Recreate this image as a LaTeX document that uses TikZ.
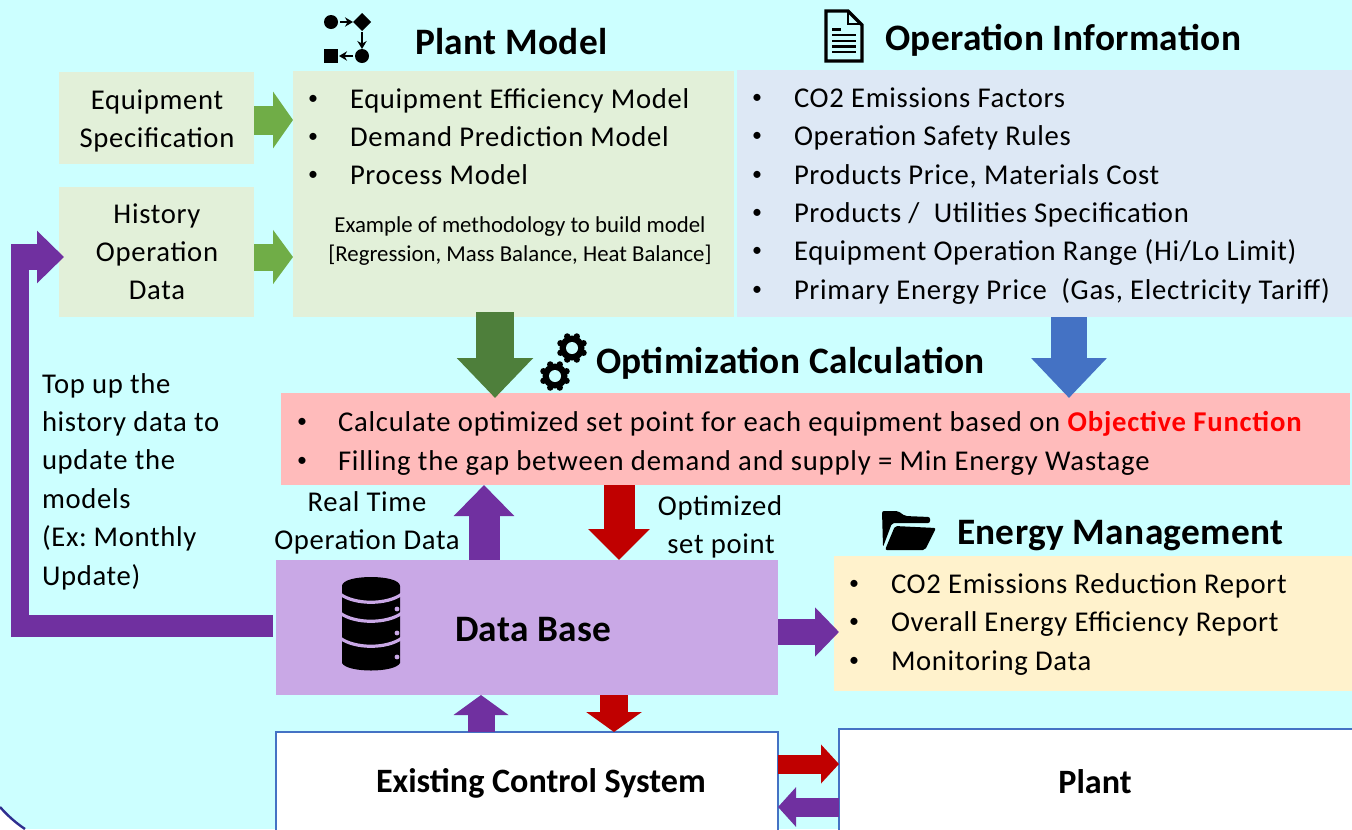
\documentclass[tikz,border=0pt]{standalone}
\usepackage{fontspec}
\setmainfont{Carlito}
\usetikzlibrary{arrows.meta}
\definecolor{bgc}{HTML}{CCFFFF}
\definecolor{greenbox}{HTML}{E2F0D9}
\definecolor{bluebox}{HTML}{DDE8F5}
\definecolor{redbox}{HTML}{FFBBBB}
\definecolor{lilac}{HTML}{C9A8E6}
\definecolor{creamb}{HTML}{FFF2CC}
\definecolor{edgeb}{HTML}{4472C4}
\definecolor{lgreen}{HTML}{70AD47}
\definecolor{dgreen}{HTML}{4E7F3B}
\definecolor{purp}{HTML}{7030A0}
\definecolor{redarr}{HTML}{C00000}
\definecolor{arcc}{HTML}{2F2F8F}
\newcommand\pxu{0.75pt}
\newcounter{tn}
\tikzset{
  panel/.style={rectangle,inner sep=0pt,outer sep=0pt,draw=none},
  body/.style={inner sep=0pt,outer sep=0pt,font=\fontsize{21.5pt}{24pt}\selectfont\addfontfeature{LetterSpace=2.4},text=black},
  small/.style={inner sep=0pt,outer sep=0pt,font=\fontsize{17.1pt}{20pt}\selectfont,text=black},
  title/.style={inner sep=0pt,outer sep=0pt,font=\fontsize{28pt}{32pt}\selectfont\bfseries\addfontfeature{LetterSpace=1},text=black},
  sub/.style={inner sep=0pt,outer sep=0pt,font=\fontsize{25.6pt}{30pt}\selectfont\bfseries,text=black},
  bulletmark/.style={inner sep=0pt,outer sep=0pt,font=\fontsize{15pt}{18pt}\selectfont,text=black},
  blk/.style n args={4}{draw=#1,line width=#2pt,arrows={-Triangle[length=#3pt,width=#4pt]}},
  bar/.style n args={2}{draw=#1,line width=#2pt},
}
\newcommand\LT[4][body]{\stepcounter{tn}\node[#1,anchor=base west] (t\arabic{tn}) at (#2,#3) {#4};}
\newcommand\CT[4][body]{\stepcounter{tn}\node[#1,anchor=base] (t\arabic{tn}) at (#2,#3) {#4};}
\newcommand\BL[4]{\stepcounter{tn}\node[bulletmark,anchor=base] (t\arabic{tn}) at (#1,{#3-3}) {•};\LT{#2}{{#3+1}}{#4}}
\newcommand\wider{\addfontfeature{LetterSpace=2.75}}
\begin{document}
\begin{tikzpicture}[x=0.75pt,y=-0.75pt]
\clip (0,0) rectangle (1352,829);
\fill[bgc] (0,0) rectangle (1352,829);
% corner arc
\fill[white] (0,807) .. controls (8,816) and (16,823) .. (25,829) -- (0,829) -- cycle;
\draw[arcc,line width=1.8pt] (0,807) .. controls (8,816) and (16,823) .. (25,829);
% panels
\node[panel,fill=greenbox,minimum width=195*\pxu,minimum height=92*\pxu] (eq) at (156.5,118) {};
\node[panel,fill=greenbox,minimum width=195*\pxu,minimum height=130*\pxu] (hist) at (156.5,252) {};
\node[panel,fill=greenbox,minimum width=441*\pxu,minimum height=246*\pxu] (pm) at (513.5,194) {};
\node[panel,fill=bluebox,minimum width=619*\pxu,minimum height=247*\pxu] (oi) at (1046.5,193.5) {};
\node[panel,fill=redbox,minimum width=1069*\pxu,minimum height=92*\pxu] (opt) at (815.5,439) {};
\node[panel,fill=lilac,minimum width=502*\pxu,minimum height=135*\pxu] (db) at (527,627.5) {};
\node[panel,fill=creamb,minimum width=522*\pxu,minimum height=135*\pxu] (em) at (1095,623.5) {};
\node[panel,fill=white,draw=edgeb,line width=1pt,minimum width=502*\pxu,minimum height=110*\pxu] (ecs) at (527,787) {};
\node[panel,fill=white,draw=edgeb,line width=1pt,minimum width=520*\pxu,minimum height=110*\pxu] (pl) at (1099,784) {};
% arrows
\draw[blk={lgreen}{21.75}{15}{42}] (eq.east |- 0,120) -- (pm.west |- 0,120);
\draw[blk={lgreen}{20.25}{15}{40}] (hist.east |- 0,257) -- (pm.west |- 0,257);
\draw[blk={dgreen}{28}{30}{55.5}] ([yshift=3.75pt]pm.south -| 495,0) -- ([yshift=-3.75pt]opt.north -| 495,0);
\draw[blk={edgeb}{27}{30}{55}] (oi.south -| 1069,0) -- ([yshift=-3.75pt]opt.north -| 1069,0);
\draw[blk={purp}{23.25}{23.25}{44}] (db.north -| 484,0) -- (opt.south -| 484,0);
\draw[blk={redarr}{23.25}{23.25}{45}] (opt.south -| 619,0) -- (db.north -| 619,0);
\draw[blk={purp}{19.5}{18}{36}] (db.east |- 0,632) -- ([xshift=3.75pt]em.west |- 0,632);
\draw[blk={purp}{20.25}{15}{40.5}] (ecs.north -| 481,0) -- (db.south -| 481,0);
\draw[blk={redarr}{21}{15}{41}] (db.south -| 614,0) -- (ecs.north -| 614,0);
\draw[blk={redarr}{14.25}{13.5}{28.5}] (ecs.east |- 0,764) -- (pl.west |- 0,764);
\draw[blk={purp}{14.25}{13.5}{29}] (pl.west |- 0,807) -- (ecs.east |- 0,807);
% feedback arrow
\coordinate (fb1) at (11,626);
\coordinate (fb2) at (20,637);
\coordinate (fb3) at (20,244);
\coordinate (fb4) at (11,257);
\coordinate (fb5) at (64,257);
\draw[bar={purp}{16.5}] ([xshift=-2.25pt]db.west |- fb1) -- (fb1);
\draw[bar={purp}{13.5}] (fb2) -- (fb3);
\draw[blk={purp}{19.5}{20.25}{38.25}] (fb4) -- (fb5);
% icons: plant model
\fill (331,22) circle (7);
\fill (362,13) -- (371,22) -- (362,31) -- (353,22) -- cycle;
\fill (362,56) circle (7);
\fill (324,49) rectangle (338,63);
\draw[line width=2pt,-{Stealth[length=6pt,width=7pt]}] (340,22) -- (353,22);
\draw[line width=2pt,-{Stealth[length=6pt,width=7pt]}] (362,32) -- (362,49);
\draw[line width=2pt,-{Stealth[length=6pt,width=7pt]}] (353,56) -- (339,56);
% icon: document
\draw[line width=2.6pt,line join=miter] (826,11) -- (848,11) -- (862,25) -- (862,61) -- (826,61) -- cycle;
\draw[line width=1.6pt] (848,11) -- (848,24) -- (862,24);
\draw[line width=1.6pt] (832,29.5) -- (841,29.5) (832,35) -- (856,35) (832,41) -- (856,41) (832,46.5) -- (856,46.5) (832,52) -- (856,52);
% icon: gears
\foreach \cx/\cy in {572/348,555/376}{
  \fill (\cx,\cy) circle (12.5);
  \foreach \a in {0,45,...,315}{\fill (\cx,\cy) ++(\a+22.5:12.5) circle (3.2);}
  \fill[bgc] (\cx,\cy) circle (6);
}
% icon: database
\fill (342,586) .. controls (342,574) and (400,574) .. (400,586) -- (400,663) .. controls (395,673) and (347,673) .. (342,663) -- cycle;
\foreach \yy in {594,613,638}{
  \draw[lilac,line width=2.4pt] (340,\yy) .. controls (355,{\yy+11}) and (387,{\yy+11}) .. (402,\yy);
}
\foreach \yy in {609,633,657}{\fill[lilac] (397,\yy) circle (2.4);}
% icon: folder
\fill[rounded corners=1.5pt] (882,511) -- (898,511) -- (905,516) -- (930,517) -- (930,523) -- (892,523) -- (883,547) -- cycle;
\fill[rounded corners=1.5pt] (895,526) -- (936,528) -- (925,550) -- (885,550) -- cycle;
% titles
\LT[title]{415}{54}{Plant Model}
\LT[title]{885}{50}{Operation Information}
\LT[title]{596}{373}{Optimization Calculation}
\LT[title]{957}{544}{Energy Management}
\LT[title]{455}{641}{Data Base}
\LT[sub]{376}{792}{Existing Control System}
\CT[sub]{1095}{793}{Plant}
% left boxes
\CT{157}{109}{Equipment}
\CT{157}{147}{Specification}
\CT{157}{223}{History}
\CT{157}{261}{Operation}
\CT{157}{299}{Data}
% plant model
\BL{313}{350}{107}{Equipment Efficiency Model}
\BL{313}{350}{145}{Demand Prediction Model}
\BL{313}{350}{183}{Process Model}
\CT[small]{520}{232}{Example of methodology to build model}
\CT[small]{520}{261}{[Regression, Mass Balance, Heat Balance]}
% operation information
\BL{757}{794}{106}{CO2 Emissions Factors}
\BL{757}{794}{144}{Operation Safety Rules}
\BL{757}{794}{183}{Products Price, Materials Cost}
\BL{757}{794}{221}{Products /\ \ Utilities Specification}
\BL{757}{794}{259}{Equipment Operation Range (Hi/Lo Limit)}
\BL{757}{794}{298}{Primary Energy Price\ \ (Gas, Electricity Tariff)}
% optimization
\BL{302}{338}{430}{\wider Calculate optimized set point for each equipment based on \textcolor{red}{\textbf{\wider Objective Function}}}
\BL{302}{338}{469}{\wider Filling the gap between demand and supply = Min Energy Wastage}
% side text
\LT{42}{393}{Top up the}
\LT{42}{431}{history data to}
\LT{42}{469}{update the}
\LT{42}{508}{models}
\LT{42}{546}{(Ex:\hspace{-2pt} Monthly}
\LT{42}{585}{Update)}
\CT{367}{511}{Real Time}
\CT{367}{549}{Operation Data}
\CT{720}{515}{Optimized}
\CT{721}{553}{set point}
% energy management
\BL{854}{891}{592}{CO2 Emissions Reduction Report}
\BL{854}{891}{630}{Overall Energy Efficiency Report}
\BL{854}{891}{669}{Monitoring Data}
\end{tikzpicture}
\end{document}
